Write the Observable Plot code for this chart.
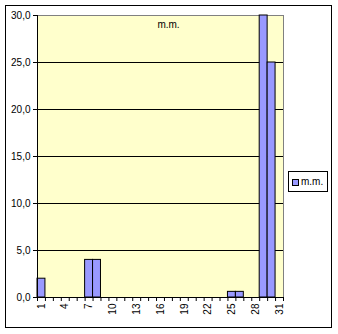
<!DOCTYPE html>
<html>
<head>
<meta charset="utf-8">
<script src="https://cdn.jsdelivr.net/npm/d3@7"></script>
<script src="https://cdn.jsdelivr.net/npm/@observablehq/plot@0.6"></script>
<style>
  html, body { margin: 0; padding: 0; background: #fff; }
  #wrap { position: relative; width: 338px; height: 334px; font-family: "Liberation Sans", Arial, sans-serif; }
  #wrap svg { position: absolute; left: 0; top: 0; }
  #border { position: absolute; left: 5px; top: 5px; width: 327px; height: 323px; box-sizing: border-box; border: 1px solid #000; pointer-events: none; }
  #legend { position: absolute; left: 288px; top: 171px; width: 40px; height: 21px; box-sizing: border-box; border: 1px solid #000; background: #fff; font-size: 10px; color: #000; }
  #legend .sw { position: absolute; left: 3px; top: 7px; width: 7px; height: 7px; box-sizing: border-box; border: 1px solid #000; background: #9999FF; }
  #legend .lb { position: absolute; left: 12px; top: 4px; line-height: 12px; white-space: nowrap; }
</style>
</head>
<body>
<div id="wrap"><div id="border"></div></div>
<script>
const days = d3.range(1, 32);
const values = [2.0, 0, 0, 0, 0, 0, 4.0, 4.0, 0, 0, 0, 0, 0, 0, 0, 0, 0, 0, 0, 0, 0, 0, 0, 0, 0.6, 0.6, 0, 0, 30.0, 25.0, 0];
const seriesName = "m.m.";
const xLabels = [1, 4, 7, 10, 13, 16, 19, 22, 25, 28, 31];
const yTicks = [0, 5, 10, 15, 20, 25, 30];

const data = days.map((d, i) => ({day: d, value: values[i]}));
const fmt = v => d3.format(".1f")(v).replace(".", ",");

const chart = Plot.plot({
  width: 338,
  height: 334,
  marginLeft: 37,
  marginRight: 55,
  marginTop: 15,
  marginBottom: 37,
  style: {fontFamily: "Liberation Sans, Arial, sans-serif", fontSize: "10px", color: "#000", background: "transparent", overflow: "visible"},
  x: {type: "linear", domain: [0.5, 31.5], axis: null, label: null},
  y: {domain: [0, 30], axis: null, label: null},
  marks: [
    Plot.frame({fill: "#FFFFCC", stroke: "#808080"}),
    Plot.ruleY(yTicks.filter(v => v > 0 && v < 30), {stroke: "#000"}),
    Plot.rect(data.filter(d => d.value > 0), {x1: d => d.day - 0.5, x2: d => d.day + 0.5, y1: 0, y2: "value", fill: "#9999FF", stroke: "#000", strokeWidth: 1}),
    Plot.ruleX([0.5], {stroke: "#000"}),
    Plot.ruleY([0], {stroke: "#000"}),
    Plot.axisY({ticks: yTicks, tickFormat: fmt, tickSize: 4, tickPadding: 3, stroke: "#000", fill: "#000", label: null}),
    Plot.axisX({ticks: d3.range(0.5, 32, 1), tickFormat: () => "", tickSize: 4, stroke: "#000", label: null}),
    Plot.axisX({ticks: xLabels, tickSize: 0, tickPadding: 6, tickRotate: -90, fill: "#000", label: null}),
    Plot.text([seriesName], {frameAnchor: "top", dx: 8, dy: 5, fill: "#000"})
  ]
});
document.getElementById("wrap").prepend(chart);

const lg = document.createElement("div");
lg.id = "legend";
lg.innerHTML = '<div class="sw"></div><div class="lb"></div>';
lg.querySelector(".lb").textContent = seriesName;
document.getElementById("wrap").appendChild(lg);
</script>
</body>
</html>
